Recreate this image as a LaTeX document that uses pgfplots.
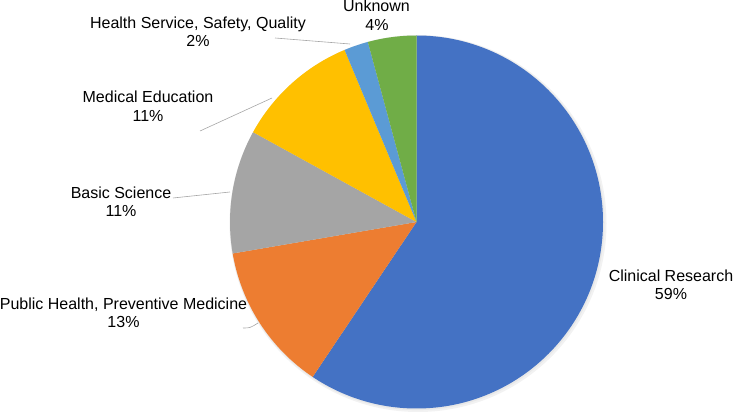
\documentclass[border=0pt]{standalone}
\usepackage{fontspec}
\setmainfont{Liberation Sans}
\usepackage{pgfplots}
\pgfplotsset{compat=1.18}
\usepackage{pgfplotstable}

\definecolor{cblue}{HTML}{4472C4}
\definecolor{corange}{HTML}{ED7D31}
\definecolor{cgray}{HTML}{A5A5A5}
\definecolor{cgold}{HTML}{FFC000}
\definecolor{clblue}{HTML}{5B9BD5}
\definecolor{cgreen}{HTML}{70AD47}
\definecolor{leader}{HTML}{A6A6A6}

% share of each slice (percent), clockwise from 12 o'clock
\pgfplotstableread{
share colour
59.4  cblue
12.9  corange
10.7  cgray
10.7  cgold
2.1   clblue
4.2   cgreen
}\slices

\begin{document}
\begin{tikzpicture}
\begin{axis}[
    width=734bp, height=417bp, scale only axis,
    xmin=0, xmax=734, ymin=0, ymax=417,
    hide axis, clip=false,
    font=\fontsize{16bp}{18.5bp}\selectfont,
]
% soft shadow
\fill[black!5] (axis cs:418,193.5) circle[radius=188.5bp];
\fill[black!9] (axis cs:417.2,194.2) circle[radius=187.3bp];

\pgfplotstablegetrowsof{\slices}
\pgfmathtruncatemacro{\nrows}{\pgfplotsretval-1}
\gdef\cumshare{0}
\foreach \i in {0,...,\nrows}{
    \pgfplotstablegetelem{\i}{share}\of{\slices}\let\sliceval\pgfplotsretval
    \pgfplotstablegetelem{\i}{colour}\of{\slices}\let\slicecol\pgfplotsretval
    \pgfmathsetmacro{\angA}{90-3.6*\cumshare}
    \pgfmathsetmacro{\angB}{90-3.6*(\cumshare+\sliceval)}
    \edef\doslice{\noexpand\fill[\slicecol] (axis cs:416.5,195) -- +(\angA:186.5bp)
        arc[start angle=\angA, end angle=\angB, radius=186.5bp] -- cycle;}
    \doslice
    \pgfmathsetmacro{\newcum}{\cumshare+\sliceval}
    \global\let\cumshare\newcum
}

% leader lines
\draw[leader, line width=0.6bp] (axis cs:275,379) -- (axis cs:350,373);
\draw[leader, line width=0.6bp] (axis cs:200,286) -- (axis cs:272,319);
\draw[leader, line width=0.6bp] (axis cs:173,219) -- (axis cs:230,225);
\draw[leader, line width=0.6bp] (axis cs:243,89) .. controls (axis cs:250,89) .. (axis cs:258,94);

% labels
\node[anchor=base] at (axis cs:376.5,405) {Unknown};
\node[anchor=base] at (axis cs:377,386) {4\%};
\node[anchor=base] at (axis cs:198,388) {Health Service, Safety, Quality};
\node[anchor=base] at (axis cs:198,370) {2\%};
\node[anchor=base] at (axis cs:148,314) {Medical Education};
\node[anchor=base] at (axis cs:148,295) {11\%};
\node[anchor=base] at (axis cs:121,218) {Basic Science};
\node[anchor=base] at (axis cs:121,200) {11\%};
\node[anchor=base] at (axis cs:123.5,107) {Public Health, Preventive Medicine};
\node[anchor=base] at (axis cs:123.5,89) {13\%};
\node[anchor=base] at (axis cs:671,135) {Clinical Research};
\node[anchor=base] at (axis cs:671,117) {59\%};
\end{axis}
\pgfresetboundingbox
\path[use as bounding box] (0,0) rectangle (734bp,417bp);
\end{tikzpicture}
\end{document}
